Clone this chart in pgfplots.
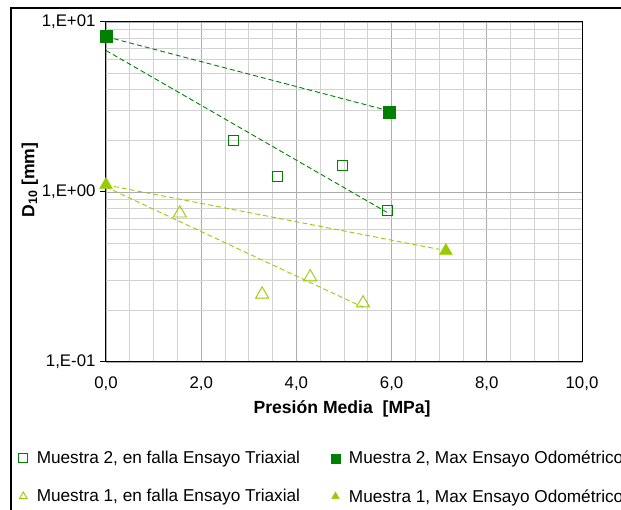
\documentclass[border=0pt]{standalone}
\usepackage{pgfplots}
\pgfplotsset{compat=1.18}
\usepackage{fontspec}
\setmainfont{Liberation Sans}
\definecolor{dg}{HTML}{008000}
\definecolor{yg}{HTML}{99CC00}
\begin{document}
\begin{tikzpicture}[x=1pt,y=1pt]
\useasboundingbox (-106,-148) rectangle (515,362);
\draw[black, line width=1.1pt] (-95,-150) -- (-95,354) -- (517,354);
\begin{axis}[
  at={(0,0)}, anchor=south west,
  scale only axis, width=476pt, height=340pt,
  xmin=0, xmax=10, ymin=0.1, ymax=10, ymode=log,
  axis line style={black, line width=1pt},
  xtick={0,2,4,6,8,10},
  xticklabels={{0,0},{2,0},{4,0},{6,0},{8,0},{10,0}},
  minor x tick num=3,
  ytick={0.1,1,10},
  yticklabels={{1,E-01},{1,E+00},{1,E+01}},
  yminorticks=true,
  grid=both,
  major grid style={gray!65, line width=0.8pt},
  minor grid style={gray!35, line width=0.8pt},
  x tick style={draw=none},
  y tick style={black, line width=1pt},
  minor tick style={draw=none},
  tickpos=left,
  tick align=outside,
  major tick length=6pt,
  tick label style={font=\fontsize{16.8}{19}\selectfont},
  /pgf/number format/assume math mode=true,
  xticklabel style={yshift=-5pt},
  yticklabel style={xshift=-1pt},
  xlabel={\textbf{Presión Media\ \ [MPa]}},
  ylabel={\textbf{D\textsubscript{10} [mm]}},
  label style={font=\fontsize{17.6}{20}\selectfont},
  xlabel style={at={(rel axis cs:0.496,0)}, anchor=center, yshift=-47pt},
  ylabel style={at={(rel axis cs:-0.16,0.535)}, anchor=center},
  legend columns=2,
  legend cell align=left,
  legend image code/.code={\draw[#1, mark size=4.5pt] plot coordinates {(0pt,0pt)};},
  legend style={draw=none, fill=none, at={(rel axis cs:-0.19,-0.25)}, anchor=north west,
    font=\fontsize{17.2}{20}\selectfont, row sep=20pt,
    /tikz/every odd column/.append style={column sep=7pt},
    /tikz/every even column/.append style={column sep=29pt}},
]
% trend lines
\addplot[forget plot, dg, dash pattern=on 5pt off 3pt, line width=0.9pt] coordinates {(0,8.2) (5.95,3.0)};
\addplot[forget plot, dg, dash pattern=on 5pt off 3pt, line width=0.9pt] coordinates {(0,6.8) (5.9,0.76)};
\addplot[forget plot, yg, dash pattern=on 5pt off 3pt, line width=0.9pt] coordinates {(0,1.1) (7.0,0.46)};
\addplot[forget plot, yg, dash pattern=on 5pt off 3pt, line width=0.9pt] coordinates {(0,1.07) (5.4,0.21)};
% data
\addplot[only marks, mark=square, mark size=5pt, draw=dg, mark options={line width=0.9pt}] coordinates {
(2.67,2.02) (3.61,1.24) (4.96,1.44) (5.92,0.78)};
\addlegendentry{Muestra 2, en falla Ensayo Triaxial}
\addplot[only marks, mark=square*, mark size=6pt, draw=dg, fill=dg] coordinates {
(0,8.25) (5.95,2.95)};
\addlegendentry{Muestra 2, Max Ensayo Odométrico}
\addplot[only marks, mark=triangle, mark size=7.5pt, draw=yg, mark options={line width=0.9pt}] coordinates {
(1.55,0.75) (3.28,0.25) (4.29,0.316) (5.40,0.222)};
\addlegendentry{Muestra 1, en falla Ensayo Triaxial}
\addplot[only marks, mark=triangle*, mark size=7.5pt, draw=yg, fill=yg] coordinates {
(0,1.10) (7.14,0.45)};
\addlegendentry{Muestra 1, Max Ensayo Odométrico}
\end{axis}
\end{tikzpicture}
\end{document}
